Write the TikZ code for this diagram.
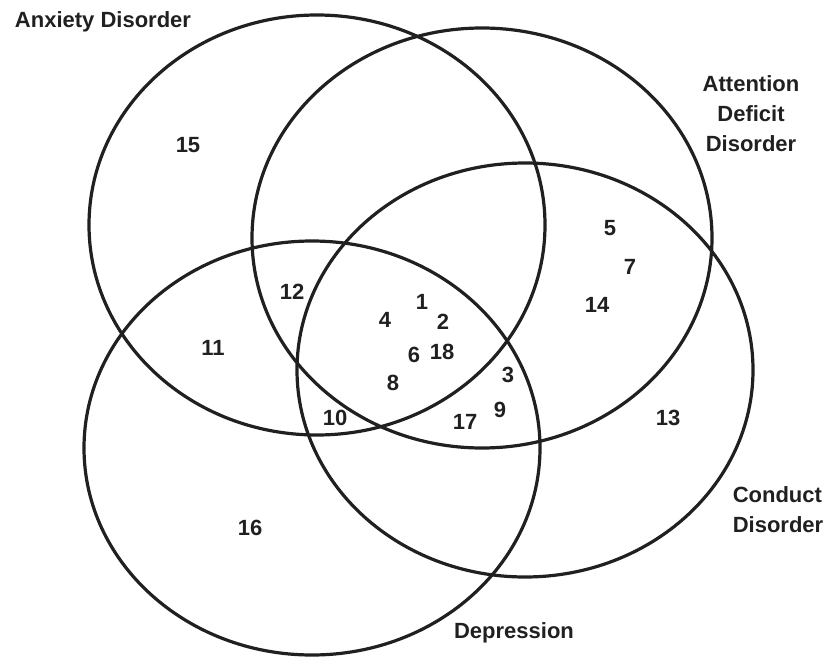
\documentclass[tikz,border=0pt]{standalone}
\usepackage{fontspec}
\setmainfont{Liberation Sans}
\usetikzlibrary{positioning}
\definecolor{InkA}{HTML}{202020}
\tikzset{
  setline/.style={draw=InkA, line width=3.2pt},
  nm/.style={font=\fontsize{22}{26}\selectfont\bfseries, text=InkA, inner sep=0pt},
  lb/.style={font=\fontsize{22}{30}\selectfont\bfseries, text=InkA, inner sep=0pt, align=center},
}

\begin{document}
\begin{tikzpicture}[x=1pt, y=-1pt]
  \useasboundingbox (0,0) rectangle (829,658);

  % the four sets
  \draw[setline] (317,225) ellipse [x radius=228, y radius=210];
  \draw[setline] (482,238) ellipse [x radius=230, y radius=210];
  \draw[setline] (525,370) ellipse [x radius=228, y radius=207];
  \draw[setline] (312,448) ellipse [x radius=228, y radius=207];

  \node[lb] (anx) at (103,22) {Anxiety Disorder};
  \node[lb] (add) at (751,114) {Attention\\Deficit\\Disorder};
  \node[lb, align=left] (cond) at (778,510) {Conduct\\Disorder};
  \node[lb] (dep) at (514,633) {Depression};

  % case numbers
  \foreach \n/\px/\py in {1/422/302, 2/443/322, 3/508/375, 4/385/320,
      5/610/228, 6/414/355, 7/630/267, 8/393/383, 9/500/410,
      10/335/418, 11/213/348, 12/292/292, 13/668/418, 14/597/305,
      15/188/145, 16/250/528, 17/465/422, 18/442/352}
    \node[nm] (n\n) at (\px,\py) {\n};
\end{tikzpicture}
\end{document}
